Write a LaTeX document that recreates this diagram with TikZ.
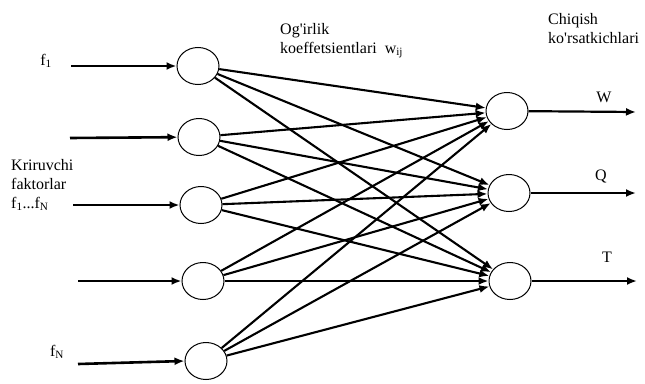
\documentclass[tikz,border=0pt]{standalone}
\usepackage{fontspec}
\setmainfont{Liberation Serif}
\usetikzlibrary{shapes.geometric,arrows.meta,positioning,calc}

\tikzset{
  neuron/.style={draw,ellipse,line width=1pt,minimum width=42pt,minimum height=37pt,inner sep=0pt},
  inarr/.style={-{Latex[length=10pt,width=8pt]},line width=2.6pt},
  wt/.style={-{Latex[length=10pt,width=8pt]},line width=2.1pt},
  lbl/.style={font=\fontsize{16}{19}\selectfont,inner sep=0pt}
}

\begin{document}
\begin{tikzpicture}[x=1pt,y=-1pt]
\useasboundingbox (0,0) rectangle (645,383);
% kirish neyronlari
\node[neuron] (i1) at (198,66) {};
\node[neuron] (i2) at (199,137) {};
\node[neuron] (i3) at (201,205) {};
\node[neuron] (i4) at (203,281) {};
\node[neuron] (i5) at (206,361) {};
% chiqish neyronlari
\node[neuron] (o1) at (507,111) {};
\node[neuron] (o2) at (509,193) {};
\node[neuron] (o3) at (510,281) {};
% kirish strelkalari
\coordinate (s1) at (71,66);
\coordinate (s2) at (70,138);
\coordinate (s3) at (73,205);
\coordinate (s4) at (78,281);
\coordinate (s5) at (78,364);
\draw[inarr] (s1) -- (i1);
\draw[inarr] (s2) -- (i2);
\draw[inarr] (s3) -- (i3);
\draw[inarr] (s4) -- (i4);
\draw[inarr] (s5) -- (i5.west);
% og'irliklar
\foreach \i in {1,...,5}
  \foreach \j in {1,2,3}
    \draw[wt] (i\i) -- (o\j);
% chiqishlar
\coordinate (e1) at (636,112);
\coordinate (e2) at (636,193);
\coordinate (e3) at (637,281);
\draw[inarr,line width=2.2pt] (o1) -- (e1);
\draw[inarr,line width=2.2pt] (o2) -- (e2);
\draw[inarr,line width=2.2pt] (o3) -- (e3);
% yozuvlar
\node[lbl] (f1) at (46,61) {f\textsubscript{1}};
\node[lbl,anchor=north west,align=left] (kf) at (11,159)
  {Kriruvchi\\faktorlar\\f\textsubscript{1}...f\textsubscript{N}};
\node[lbl] (fN) at (57,352) {f\textsubscript{N}};
\node[lbl,anchor=north west,align=left] (wij) at (280,23)
  {Og\textquotesingle irlik\\koeffetsientlari\ \ w\textsubscript{ij}};
\node[lbl,anchor=north west,align=left] (chq) at (548,13)
  {Chiqish\\ko\textquotesingle rsatkichlari};
\node[lbl] (w) at (604,97) {W};
\node[lbl] (q) at (601,176) {Q};
\node[lbl] (t) at (607,257) {T};
\end{tikzpicture}
\end{document}
